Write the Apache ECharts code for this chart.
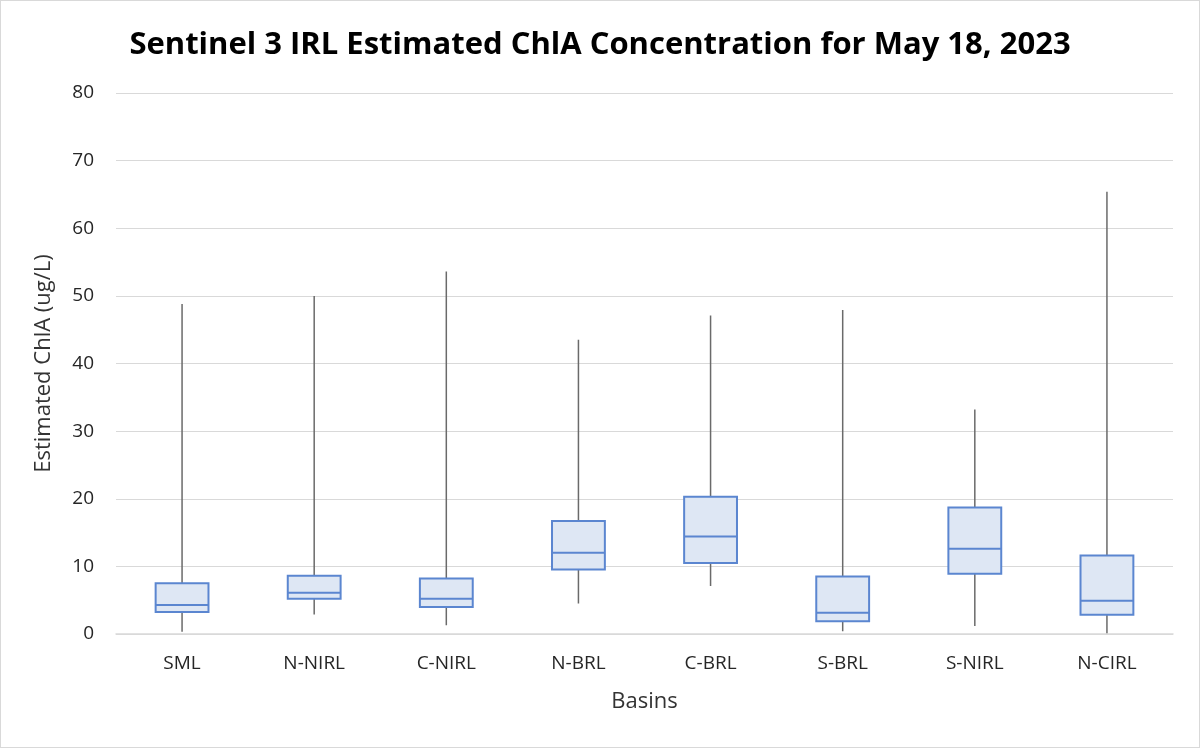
<!DOCTYPE html>
<html>
<head>
<meta charset="utf-8">
<script src="https://cdn.jsdelivr.net/npm/echarts@6/dist/echarts.min.js"></script>
<style>
html,body{margin:0;padding:0;background:#fff;}
#c{width:1200px;height:748px;box-sizing:border-box;border:1px solid #d9d9d9;}
</style>
</head>
<body>
<div id="c"></div>
<script>
const categories = ['SML','N-NIRL','C-NIRL','N-BRL','C-BRL','S-BRL','S-NIRL','N-CIRL'];
const minValues    = [0.35, 2.9, 1.3, 4.5, 7.1, 0.4, 1.2, 0.1];
const q1Values     = [3.25, 5.2, 4.0, 9.55, 10.5, 1.9, 8.9, 2.85];
const medianValues = [4.3, 6.1, 5.2, 12.0, 14.4, 3.15, 12.6, 4.9];
const q3Values     = [7.5, 8.6, 8.2, 16.7, 20.3, 8.5, 18.7, 11.6];
const maxValues    = [48.8, 50.0, 53.6, 43.5, 47.1, 47.9, 33.2, 65.4];

const data = categories.map((c, i) => [i, minValues[i], q1Values[i], medianValues[i], q3Values[i], maxValues[i]]);

const chart = echarts.init(document.getElementById('c'));
const font = '"Open Sans", "Noto Sans", sans-serif';
chart.setOption({
  animation: false,
  title: {
    text: 'Sentinel 3 IRL Estimated ChlA Concentration for May 18, 2023',
    left: 'center', top: 24,
    textStyle: { fontFamily: font, fontSize: 31, fontWeight: 'bold', color: '#000' }
  },
  grid: { left: 115, right: 26, top: 92, bottom: 113 },
  xAxis: {
    type: 'category', data: categories,
    name: 'Basins', nameLocation: 'middle', nameGap: 57,
    nameTextStyle: { fontFamily: font, fontSize: 22, color: '#333' },
    axisLine: { show: true, lineStyle: { color: '#d9d9d9', width: 1.5 } },
    axisTick: { show: false },
    axisLabel: { fontFamily: font, fontSize: 19, color: '#262626', margin: 20 }
  },
  yAxis: {
    type: 'value', min: 0, max: 80, interval: 10,
    name: 'Estimated ChlA (ug/L)', nameLocation: 'middle', nameGap: 61,
    nameTextStyle: { fontFamily: font, fontSize: 22, color: '#333' },
    axisLine: { show: false }, axisTick: { show: false },
    axisLabel: { fontFamily: font, fontSize: 19, color: '#262626', margin: 22 },
    splitLine: { lineStyle: { color: '#d9d9d9', width: 1.2 } }
  },
  series: [{
    type: 'custom',
    data: data,
    encode: { x: 0, y: [1, 2, 3, 4, 5] },
    renderItem: function (params, api) {
      const i = api.value(0);
      const pMin = api.coord([i, api.value(1)]);
      const pQ1 = api.coord([i, api.value(2)]);
      const pMed = api.coord([i, api.value(3)]);
      const pQ3 = api.coord([i, api.value(4)]);
      const pMax = api.coord([i, api.value(5)]);
      const bw = api.size([1, 0])[0] * 0.40;
      const x = pQ1[0];
      return {
        type: 'group',
        children: [
          { type: 'line', shape: { x1: x, y1: pMin[1], x2: x, y2: pMax[1] },
            style: { stroke: '#6a6a6a', lineWidth: 1.5 } },
          { type: 'rect', shape: { x: x - bw / 2, y: pQ3[1], width: bw, height: pQ1[1] - pQ3[1] },
            style: { fill: '#dee7f4', stroke: '#5b86d0', lineWidth: 2 } },
          { type: 'line', shape: { x1: x - bw / 2, y1: pMed[1], x2: x + bw / 2, y2: pMed[1] },
            style: { stroke: '#5b86d0', lineWidth: 2 } }
        ]
      };
    }
  }]
});
</script>
</body>
</html>
